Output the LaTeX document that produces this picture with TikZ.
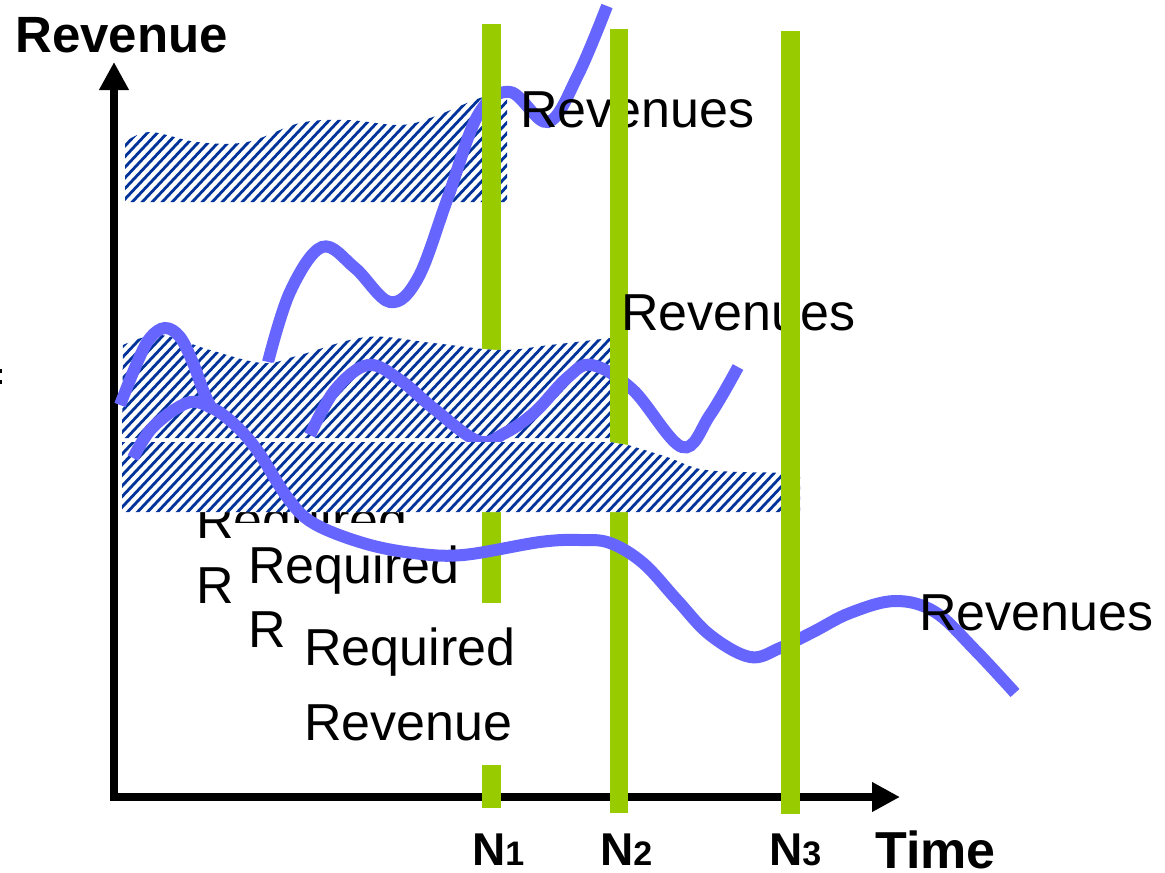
\documentclass[tikz,border=0pt]{standalone}
\usepackage{fontspec}
\setmainfont{Liberation Sans}
\usetikzlibrary{arrows.meta}
\definecolor{bargreen}{RGB}{153,204,0}
\definecolor{curveblue}{RGB}{102,102,255}
\definecolor{hatchblue}{RGB}{0,51,153}
\tikzset{
  axisline/.style={line width=8pt, -{Triangle[length=28pt,width=28pt]}},
  bar/.style={fill=bargreen},
  revcurve/.style={draw=curveblue, line width=12pt},
  stripe/.style={draw=hatchblue, line width=2.8pt},
  big/.style={inner sep=0pt, anchor=base west, font=\fontsize{52}{60}\selectfont},
  bold/.style={inner sep=0pt, anchor=base west, font=\bfseries\fontsize{51}{60}\selectfont},
}
% diagonal stripes filling the current clip region, from the given lower edge
\newcommand\hatchlines[1]{\foreach \k in {0,...,85}{\draw[stripe] ({20+10*\k},#1) -- ++(160,-170);}}
\begin{document}
\begin{tikzpicture}[x=1pt,y=-1pt]
\useasboundingbox (0,0) rectangle (1165,873);

% axes
\draw[axisline] (114,801) -- (114,62);
\draw[axisline] (110,797) -- (900,797);

% small marks at the left edge
\fill[black] (0,369) rectangle (2,373);
\fill[black] (0,380) rectangle (2,384);

% first required revenue label
\node[big] (req1a) at (196,538) {Required};
\node[big] (req1b) at (196,603) {Revenue};

% upper hatched band
\begin{scope}
  \clip (125,202) -- plot[smooth,tension=0.6] coordinates {(125,142) (150,132) (197,142) (247,142) (300,123) (347,120) (400,125) (433,117) (480,98) (507,93)} -- (507,202) -- cycle;
  \fill[white] (100,80) rectangle (520,210);
  \hatchlines{215}
\end{scope}

% upper revenue curve
\draw[revcurve] plot[smooth,tension=0.6] coordinates {(268,362) (290,292) (322,247) (355,268) (390,302) (418,278) (447,200) (478,115) (510,92) (548,122) (578,75) (607,6)};

% N1 bar
\fill[bar] (482,24) rectangle (501,808);
\node[big] (rev1) at (520,127) {Revenues};

% middle hatched band
\begin{scope}
  \clip (122,438) -- plot[smooth,tension=0.6] coordinates {(123,345) (160,335) (210,350) (263,363) (300,355) (367,337) (433,343) (500,350) (550,345) (610,338)} -- (610,438) -- cycle;
  \fill[white] (100,320) rectangle (620,440);
  \hatchlines{445}
\end{scope}

% short arc at the left
\draw[revcurve] plot[smooth,tension=0.6] coordinates {(120,405) (137,363) (150,338) (165,328) (180,337) (193,363) (203,390) (212,410)};

% middle revenue curve
\draw[revcurve] plot[smooth,tension=0.6] coordinates {(310,435) (335,390) (368,365) (400,380) (433,408) (478,441) (505,433) (535,412) (567,378) (592,365) (633,390) (682,447) (710,415) (738,367)};

% N2 bar
\fill[bar] (610,29) rectangle (628,813);

% lower hatched band
\begin{scope}
  \clip (122,442) -- (610,442) -- plot[smooth,tension=0.6] coordinates {(628,445) (667,457) (700,469) (740,472) (780,473) (800,477)} -- (800,512) -- (122,512) -- cycle;
  \fill[white] (100,430) rectangle (810,520);
  \hatchlines{520}
\end{scope}

% second required revenue label
\fill[white] (232,523) rectangle (472,660);
\node[big] (req2a) at (248,583) {Required};
\node[big] (req2b) at (248,647) {Revenue};

% third required revenue label
\fill[white] (284,603) rectangle (505,765);
\node[big] (req3a) at (304,665) {Required};
\node[big] (req3b) at (304,740) {Revenue};

% lower revenue curve
\draw[revcurve] plot[smooth,tension=0.6] coordinates {(133,458) (153,427) (187,403) (210,407) (233,423) (257,450) (287,497) (313,523) (363,543) (413,553) (463,555) (540,542) (580,540) (610,543) (643,563) (677,600) (710,635) (750,657) (780,648) (813,632) (850,613) (895,601) (935,612) (975,650) (1015,693)};

\node[big] (rev2) at (621,330) {Revenues};

% N3 bar
\fill[bar] (781,31) rectangle (800,814);
\node[big] (rev3) at (919,630) {Revenues};

% axis titles and markers
\node[bold] (ytitle) at (15,52) {Revenue};
\node[bold, font=\bfseries\fontsize{52}{60}\selectfont] (xtitle) at (875,868) {Time};
\node[inner sep=0pt, anchor=base west, font=\bfseries] (n1) at (472,865) {\fontsize{46}{50}\selectfont N\fontsize{34}{40}\selectfont 1};
\node[inner sep=0pt, anchor=base west, font=\bfseries] (n2) at (600,865) {\fontsize{46}{50}\selectfont N\fontsize{34}{40}\selectfont 2};
\node[inner sep=0pt, anchor=base west, font=\bfseries] (n3) at (769,865) {\fontsize{46}{50}\selectfont N\fontsize{34}{40}\selectfont 3};
\end{tikzpicture}
\end{document}
